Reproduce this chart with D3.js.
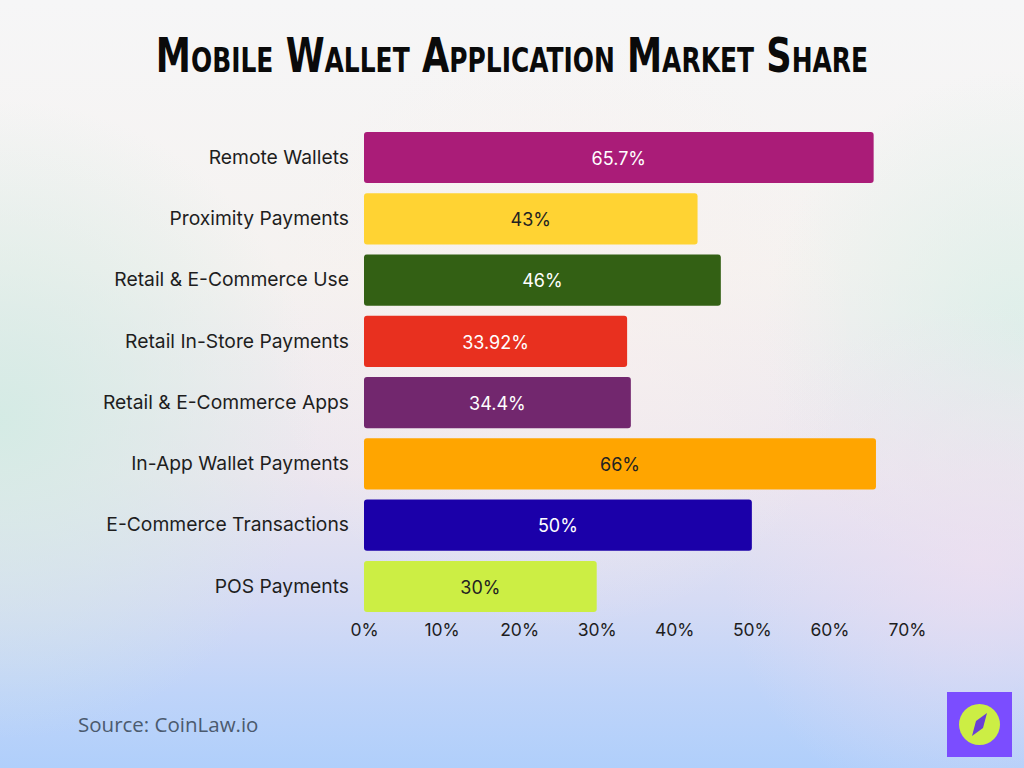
<!DOCTYPE html>
<html><head><meta charset="utf-8">
<script src="https://cdn.jsdelivr.net/npm/d3@7"></script>
<style>html,body{margin:0;padding:0;overflow:hidden;}svg{display:block;}</style>
</head><body>
<script>
const categories = ["Remote Wallets","Proximity Payments","Retail & E-Commerce Use","Retail In-Store Payments","Retail & E-Commerce Apps","In-App Wallet Payments","E-Commerce Transactions","POS Payments"];
const values = [65.7, 43, 46, 33.92, 34.4, 66, 50, 30];
const valueLabels = ["65.7%","43%","46%","33.92%","34.4%","66%","50%","30%"];
const barColors = ["#AA1C78","#FFD333","#336014","#E8301F","#72276E","#FFA500","#1B00A9","#CCEE44"];
const labelColors = ["#ffffff","#222222","#ffffff","#ffffff","#ffffff","#222222","#ffffff","#222222"];
const tickValues = [0,10,20,30,40,50,60,70];

const W=1024,H=768;
const svg=d3.select("body").append("svg").attr("width",W).attr("height",H);
const defs=svg.append("defs");
const lg=defs.append("linearGradient").attr("id","bg").attr("x1",0).attr("y1",0).attr("x2",0).attr("y2",1);
[[0,"#f6f6f7"],[0.35,"#f5f2f0"],[0.62,"#ece6ef"],[0.78,"#d6dbf4"],[0.9,"#bfd4f9"],[1,"#b0cffb"]].forEach(s=>lg.append("stop").attr("offset",s[0]).attr("stop-color",s[1]));
svg.append("rect").attr("width",W).attr("height",H).attr("fill","url(#bg)");
function radial(id,cx,cy,r,color,op){
  const g=defs.append("radialGradient").attr("id",id).attr("cx",cx).attr("cy",cy).attr("r",r).attr("gradientUnits","userSpaceOnUse");
  g.append("stop").attr("offset",0).attr("stop-color",color).attr("stop-opacity",op);
  g.append("stop").attr("offset",1).attr("stop-color",color).attr("stop-opacity",0);
  svg.append("rect").attr("width",W).attr("height",H).attr("fill",`url(#${id})`);
}
radial("r1",0,420,320,"#d3ebe4",0.95);
radial("r2",1024,330,260,"#d9efe8",0.8);
radial("r3",980,560,260,"#f0dff0",0.7);
radial("r4",560,330,300,"#faf0ed",0.6);

// Title (small caps), scaled horizontally to the reference width
const titleG=svg.append("g");
const titleT=titleG.append("text").attr("x",0).attr("y",0).attr("text-anchor","middle")
  .attr("font-family","'DejaVu Sans Condensed','DejaVu Sans',sans-serif")
  .attr("font-stretch","condensed").attr("font-weight","bold").attr("fill","#0a0a0a")
  .attr("font-size",48).style("font-variant","small-caps")
  .text("Mobile Wallet Application Market Share");
const tw=titleT.node().getComputedTextLength();
titleG.attr("transform",`translate(512,72) scale(${713/tw},1)`);

const x=d3.scaleLinear().domain([0,70]).range([364,907]);
const y=d3.scaleBand().domain(categories).range([126.9,617.1]).paddingInner(0.165).paddingOuter(0.0825);

const fontUI="Inter, 'DejaVu Sans', sans-serif";
const g=svg.append("g");
g.selectAll("rect.bar").data(categories).join("rect").attr("class","bar")
  .attr("x",x(0)).attr("y",d=>y(d)).attr("width",(d,i)=>x(values[i])-x(0)).attr("height",y.bandwidth())
  .attr("rx",3).attr("fill",(d,i)=>barColors[i]);
g.selectAll("text.val").data(categories).join("text").attr("class","val")
  .attr("x",(d,i)=>(x(0)+x(values[i]))/2).attr("y",d=>y(d)+y.bandwidth()/2+1).attr("dy","0.35em")
  .attr("text-anchor","middle").attr("font-family",fontUI).attr("font-size",18).attr("fill",(d,i)=>labelColors[i])
  .text((d,i)=>valueLabels[i]);

const yAxis=svg.append("g").attr("transform","translate(364,0)").call(d3.axisLeft(y).tickSize(0).tickPadding(15));
yAxis.select(".domain").remove();
yAxis.selectAll("text").attr("font-family",fontUI).attr("font-size",19.3).attr("fill","#1e1e1e");

const xAxis=svg.append("g").attr("transform","translate(0,617)").call(d3.axisBottom(x).tickValues(tickValues).tickFormat(d=>d+"%").tickSize(0).tickPadding(7));
xAxis.select(".domain").remove();
xAxis.selectAll("text").attr("font-family",fontUI).attr("font-size",17.5).attr("fill","#1e1e1e");

svg.append("text").attr("x",78).attr("y",732).attr("font-family","'Open Sans','DejaVu Sans',sans-serif").attr("font-size",20.5).attr("fill","#4b5a6e").text("Source: CoinLaw.io");

// logo
const lgG=svg.append("g");
lgG.append("rect").attr("x",947).attr("y",692).attr("width",65).attr("height",65).attr("fill","#7B4DFF");
lgG.append("circle").attr("cx",979.5).attr("cy",724.5).attr("r",20.5).attr("fill","#CCEE44");
lgG.append("path").attr("d","M987,713 L983,728 L972,736 L976,721 Z").attr("fill","#6a3fd6");
</script>
</body></html>
